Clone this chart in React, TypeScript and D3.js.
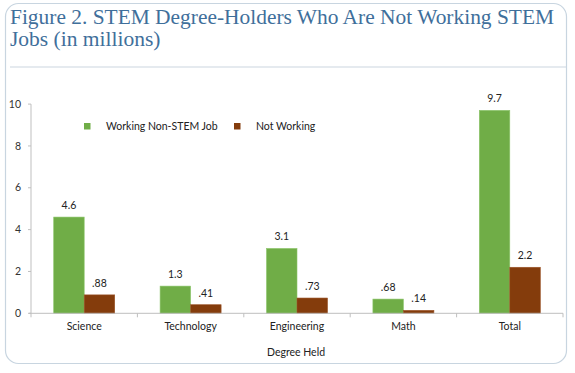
import React from "react";
import * as d3 from "d3";

const categories = ["Science", "Technology", "Engineering", "Math", "Total"];
const seriesNames = ["Working Non-STEM Job", "Not Working"];
const workingNonStem = [4.6, 1.3, 3.1, 0.68, 9.7];
const notWorking = [0.88, 0.41, 0.73, 0.14, 2.2];
const valueLabels = [
  ["4.6", "1.3", "3.1", ".68", "9.7"],
  [".88", ".41", ".73", ".14", "2.2"],
];
const yTicks = [0, 2, 4, 6, 8, 10];
const colors = ["#70AD47", "#843C0C"];
const titleLines = [
  "Figure 2. STEM Degree-Holders Who Are Not Working STEM",
  "Jobs (in millions)",
];
const xTitle = "Degree Held";

const W = 575;
const H = 373;
const font = "Lato, 'Open Sans', sans-serif";

export default function App() {
  const x = d3.scaleBand<string>().domain(categories).range([31, 563]).padding(0);
  const bw = x.bandwidth();
  const barW = 30.5;
  const inner = d3
    .scaleBand<string>()
    .domain(seriesNames)
    .range([bw / 2 - barW, bw / 2 + barW])
    .padding(0);
  const y = d3.scaleLinear().domain([0, 10]).range([313.3, 104.1]);
  const series = [workingNonStem, notWorking];
  const boundaries = categories.map((c) => x(c)!).concat([x.range()[1]]);

  return (
    <svg
      width={W}
      height={H}
      style={{ position: "absolute", left: 0, top: 0, background: "#fff" }}
    >
      <rect x={5.5} y={3.5} width={561} height={360} rx={13} fill="#fff" stroke="#c8d5e0" strokeWidth={1.2} />
      {titleLines.map((t, i) => (
        <text
          key={i}
          x={10}
          y={23.5 + i * 22.5}
          fontFamily="'Liberation Serif', 'Times New Roman', serif"
          fontSize={21.5}
          fill="#3f6f9b"
          textLength={i === 0 ? 544 : undefined}
          lengthAdjust="spacingAndGlyphs"
        >
          {t}
        </text>
      ))}
      <line x1={10} x2={566} y1={67} y2={67} stroke="#ccd6df" strokeWidth={1.2} />

      {/* y axis */}
      <line x1={31} x2={31} y1={y(10)} y2={y(0)} stroke="#bfbfbf" />
      {yTicks.map((t) => (
        <g key={t}>
          <line x1={28} x2={31} y1={y(t)} y2={y(t)} stroke="#bfbfbf" />
          <text
            x={21}
            y={y(t)}
            dy="0.35em"
            textAnchor="end"
            fontFamily={font}
            fontSize={10.5}
            fill="#333"
          >
            {t}
          </text>
        </g>
      ))}

      {/* bars */}
      {series.map((vals, si) =>
        categories.map((c, ci) => {
          const bx = x(c)! + inner(seriesNames[si])!;
          const by = y(vals[ci]);
          return (
            <g key={`${si}-${ci}`}>
              <rect
                x={bx}
                y={by}
                width={inner.bandwidth()}
                height={y(0) - by}
                fill={colors[si]}
                stroke={si === 0 ? "#8cc56a" : "#9a5226"}
                strokeWidth={0.6}
              />
              <text
                x={bx + inner.bandwidth() / 2}
                y={by - 8}
                textAnchor="middle"
                fontFamily={font}
                fontSize={10.5}
                fill="#222"
              >
                {valueLabels[si][ci]}
              </text>
            </g>
          );
        })
      )}

      {/* x axis */}
      <line x1={x.range()[0] - 2} x2={x.range()[1]} y1={y(0)} y2={y(0)} stroke="#bfbfbf" />
      {boundaries.map((b, i) => (
        <line key={i} x1={b} x2={b} y1={y(0)} y2={y(0) + 4} stroke="#bfbfbf" />
      ))}
      {categories.map((c) => (
        <text
          key={c}
          x={x(c)! + bw / 2}
          y={330}
          textAnchor="middle"
          fontFamily={font}
          fontSize={10.5}
          fill="#222"
        >
          {c}
        </text>
      ))}
      <text x={296} y={356} textAnchor="middle" fontFamily={font} fontSize={10.5} fill="#222">
        {xTitle}
      </text>

      {/* legend */}
      {seriesNames.map((s, i) => {
        const lx = [84, 234][i];
        return (
          <g key={s}>
            <rect x={lx} y={123} width={6.5} height={6.5} fill={colors[i]} />
            <text x={lx + 22} y={129.5} fontFamily={font} fontSize={10.5} fill="#222">
              {s}
            </text>
          </g>
        );
      })}
    </svg>
  );
}
